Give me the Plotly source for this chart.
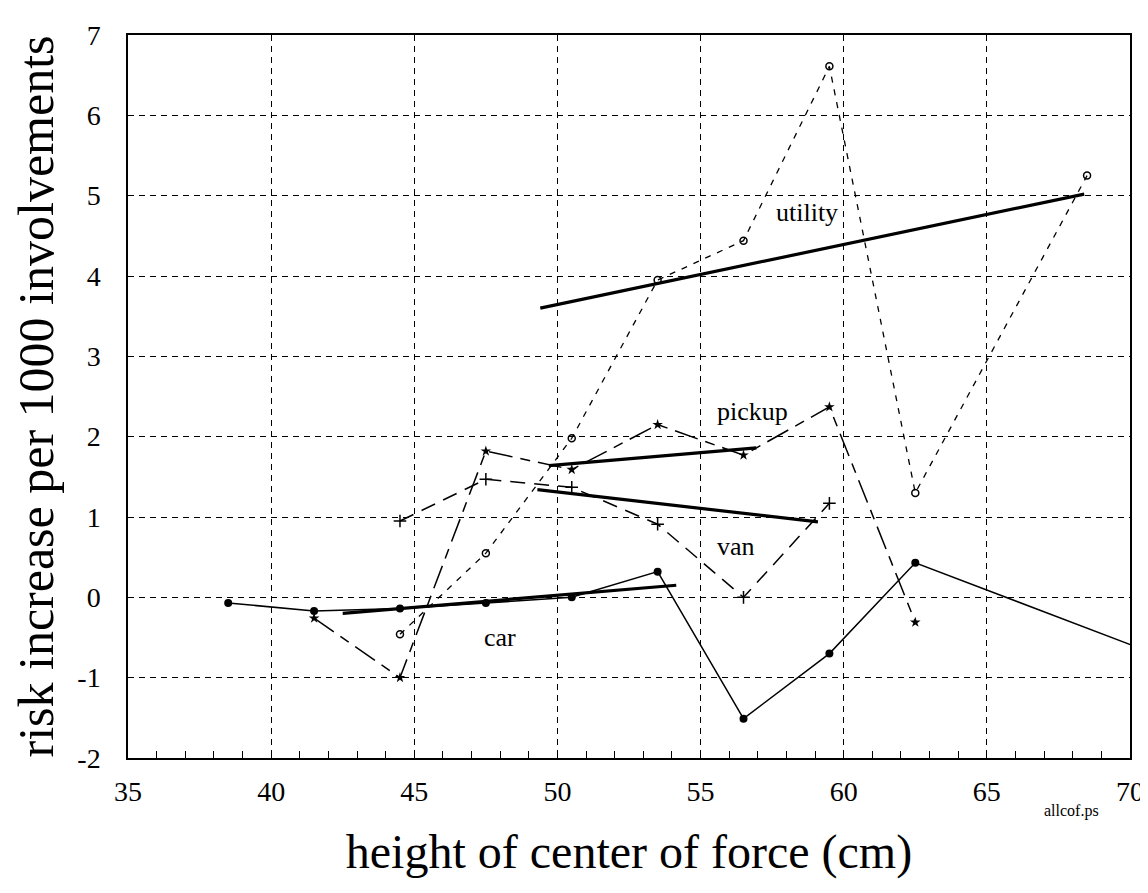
import plotly.graph_objects as go

# ---------------------------------------------------------------------------
# Data (x = height of center of force, cm)
# ---------------------------------------------------------------------------
car_x = [38.5, 41.5, 44.5, 47.5, 50.5, 53.5, 56.5, 59.5, 62.5, 71.5]
car_y = [-0.07, -0.17, -0.14, -0.07, 0.0, 0.32, -1.51, -0.70, 0.43, -0.79]

pickup_x = [41.5, 44.5, 47.5, 50.5, 53.5, 56.5, 59.5, 62.5]
pickup_y = [-0.26, -1.0, 1.82, 1.59, 2.15, 1.77, 2.37, -0.31]

van_x = [44.5, 47.5, 50.5, 53.5, 56.5, 59.5]
van_y = [0.95, 1.47, 1.37, 0.91, 0.0, 1.17]

utility_x = [44.5, 47.5, 50.5, 53.5, 56.5, 59.5, 62.5, 68.5]
utility_y = [-0.46, 0.55, 1.98, 3.95, 4.44, 6.61, 1.30, 5.25]

# fitted lines (end points)
car_fit_x, car_fit_y = [42.5, 54.15], [-0.20, 0.15]
pickup_fit_x, pickup_fit_y = [49.7, 56.95], [1.64, 1.86]
van_fit_x, van_fit_y = [49.3, 59.1], [1.34, 0.94]
utility_fit_x, utility_fit_y = [49.4, 68.4], [3.60, 5.02]

labels = ['utility', 'pickup', 'van', 'car']
label_x = [58.7, 56.8, 56.25, 48.0]
label_y = [4.79, 2.31, 0.63, -0.50]

y_ticks = [-2, -1, 0, 1, 2, 3, 4, 5, 6, 7]
y_ticktext = ['-2', '-1', '0', '1', '2', '3', '4', '5', '6', '7']

SERIF = 'Liberation Serif, Times New Roman, serif'

fig = go.Figure()

# raw series
fig.add_trace(go.Scatter(
    x=car_x, y=car_y, mode='lines+markers', name='car',
    line=dict(color='black', width=1.5),
    marker=dict(symbol='circle', size=8, color='black'),
))
fig.add_trace(go.Scatter(
    x=pickup_x, y=pickup_y, mode='lines+markers', name='pickup',
    line=dict(color='black', width=1.5, dash='24px,8px,10px,8px'),
    marker=dict(symbol='star', size=8, color='black'),
))
fig.add_trace(go.Scatter(
    x=van_x, y=van_y, mode='lines+markers', name='van',
    line=dict(color='black', width=1.5, dash='15px,9px'),
    marker=dict(symbol='cross-thin', size=9, color='black',
                line=dict(color='black', width=1.5)),
))
fig.add_trace(go.Scatter(
    x=utility_x, y=utility_y, mode='lines+markers', name='utility',
    line=dict(color='black', width=1.3, dash='6px,7px'),
    marker=dict(symbol='circle-open', size=7, color='black',
                line=dict(color='black', width=1.5)),
))

# fitted lines
for fx, fy in [(car_fit_x, car_fit_y), (pickup_fit_x, pickup_fit_y),
               (van_fit_x, van_fit_y), (utility_fit_x, utility_fit_y)]:
    fig.add_trace(go.Scatter(
        x=fx, y=fy, mode='lines',
        line=dict(color='black', width=3.2),
        showlegend=False, hoverinfo='skip',
    ))

for txt, lx, ly in zip(labels, label_x, label_y):
    fig.add_annotation(x=lx, y=ly, text=txt, showarrow=False,
                       font=dict(family=SERIF, size=26, color='black'))

fig.add_annotation(xref='paper', yref='paper', x=0.971, y=-0.088,
                   text='allcof.ps', showarrow=False,
                   font=dict(family=SERIF, size=16, color='black'))

fig.update_xaxes(
    range=[35, 70], dtick=5, tick0=35,
    showline=True, mirror=True, linecolor='black', linewidth=1.5,
    showgrid=True, gridcolor='black', gridwidth=1, griddash='6px,5px',
    ticks='inside', ticklen=8, tickcolor='black',
    minor=dict(dtick=1, ticks='inside', ticklen=7, tickcolor='black', showgrid=False),
    ticklabelstandoff=8,
    tickfont=dict(family=SERIF, size=28, color='black'),
    title=dict(text='height of center of force (cm)', standoff=28,
               font=dict(family=SERIF, size=48, color='black')),
    zeroline=False,
)
fig.update_yaxes(
    range=[-2, 7], tickvals=y_ticks, ticktext=y_ticktext,
    showline=True, mirror=True, linecolor='black', linewidth=1.5,
    showgrid=True, gridcolor='black', gridwidth=1, griddash='6px,5px',
    ticks='', ticklabelstandoff=20,
    tickfont=dict(family=SERIF, size=28, color='black'),
    title=dict(text='risk increase per 1000 involvements', standoff=8,
               font=dict(family=SERIF, size=50, color='black')),
    zeroline=False,
)

fig.update_layout(
    width=1148, height=893,
    margin=dict(l=120, r=21, t=22, b=143),
    plot_bgcolor='white', paper_bgcolor='white',
    showlegend=False,
)

fig.write_html("out.html")
